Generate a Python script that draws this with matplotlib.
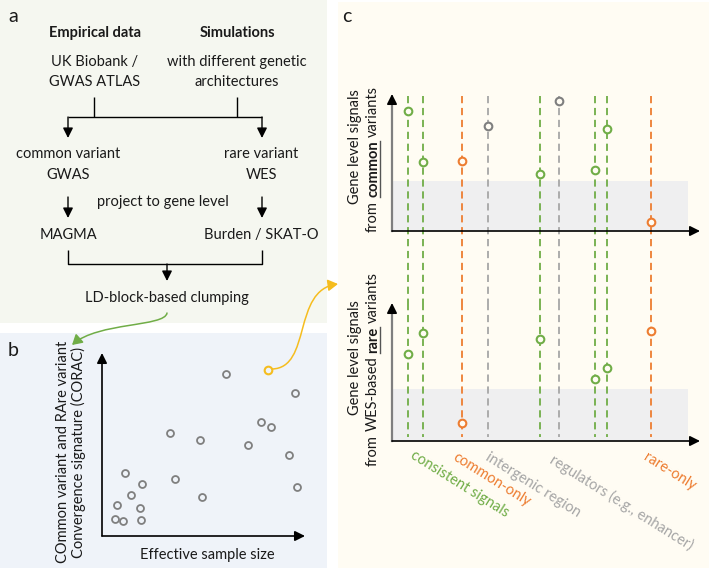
import matplotlib
matplotlib.use("Agg")
import matplotlib.pyplot as plt
import numpy as np
from matplotlib.patches import Rectangle, FancyArrowPatch
from matplotlib.path import Path

plt.rcParams["font.family"] = ["Lato", "DejaVu Sans"]

# panel b: effective sample size vs CORAC (arbitrary units 0-10)
sample_size = [9.51, 7.83, 8.33, 7.19, 9.21, 9.61, 3.35, 4.83, 3.60, 4.93,
               1.13, 1.97, 1.43, 0.74, 1.87, 0.64, 1.03, 1.92, 6.11]
corac = [7.81, 6.23, 5.96, 4.97, 4.43, 2.68, 5.63, 5.25, 3.11, 2.13,
         3.44, 2.84, 2.24, 1.69, 1.53, 0.93, 0.82, 0.87, 8.85]
hl_size, hl_corac = 8.18, 9.07

# panel c: gene positions and signals (arbitrary units 0-10)
gene_pos = [0.52, 1.01, 2.27, 3.12, 4.81, 5.42, 6.59, 6.98, 8.41]
gene_cls = ["cons", "cons", "common", "inter", "cons", "reg", "cons", "cons", "rare"]
common_sig = [8.76, 5.04, 5.11, 7.66, 4.16, 9.49, 4.45, 7.45, 0.66]
rare_sig = [6.30, 7.83, 1.30, np.nan, 7.39, np.nan, 4.49, 5.29, 7.97]
thr_common = 3.65
thr_rare = 3.77
cat_labels = ["consistent signals", "common-only", "intergenic region",
              "regulators (e.g., enhancer)", "rare-only"]

GREEN = "#70ad47"
ORANGE = "#ed7d31"
GRAY = "#a6a6a6"
DGRAY = "#7f7f7f"
TXT = "#1a1a1a"
FS = 10.5
line_col = {"cons": GREEN, "common": ORANGE, "rare": ORANGE, "inter": GRAY, "reg": GRAY}
pt_col = {"cons": GREEN, "common": ORANGE, "rare": ORANGE, "inter": DGRAY, "reg": DGRAY}
cat_colors = [GREEN, ORANGE, GRAY, GRAY, ORANGE]

W, H = 709, 568
fig = plt.figure(figsize=(W / 100, H / 100), dpi=100)
ax = fig.add_axes([0, 0, 1, 1])
ax.set_xlim(0, W)
ax.set_ylim(H, 0)
ax.axis("off")

# panel backgrounds
ax.add_patch(Rectangle((0, 0), 327, 323, fc="#f5f7f0", ec="none"))
ax.add_patch(Rectangle((0, 333), 327, 235, fc="#eff3f9", ec="none"))
ax.add_patch(Rectangle((338, 2), 371, 566, fc="#fffcf3", ec="none"))

for s, x, y in [("a", 13, 17), ("b", 13, 350), ("c", 347, 17)]:
    ax.text(x, y, s, fontsize=14, ha="center", va="center", color=TXT)


def t(x, y, s, **kw):
    kw.setdefault("fontsize", FS)
    ax.text(x, y, s, ha="center", va="center", color=TXT, **kw)


def seg(xs, ys):
    ax.plot(xs, ys, color="k", lw=1.0, solid_capstyle="butt")


def arrow(x0, y0, x1, y1, col="k", lw=1.0):
    ax.annotate("", xy=(x1, y1), xytext=(x0, y0),
                arrowprops=dict(arrowstyle="-|>,head_length=0.6,head_width=0.3",
                                color=col, lw=lw, shrinkA=0, shrinkB=0))


# ---- panel a: flowchart
t(95, 33, "Empirical data", fontweight="bold")
t(237, 33, "Simulations", fontweight="bold")
t(95, 62, "UK Biobank /")
t(95, 82, "GWAS ATLAS")
t(237, 62, "with different genetic")
t(237, 82, "architectures")
seg([94, 94], [97, 117])
seg([237, 237], [97, 117])
seg([68, 262], [117, 117])
arrow(68, 117, 68, 138)
arrow(262, 117, 262, 138)
t(68, 154, "common variant")
t(68, 175, "GWAS")
t(261, 154, "rare variant")
t(262, 175, "WES")
arrow(68, 197, 68, 218)
arrow(262, 197, 262, 218)
t(163, 202, "project to gene level")
t(68, 235, "MAGMA")
t(261, 235, "Burden / SKAT-O")
seg([68, 68, 262, 262], [250, 264, 264, 250])
arrow(167, 264, 167, 281)
t(167, 298, "LD-block-based clumping")

# green curved arrow a -> b
gpath = Path([(167, 313), (165, 327), (98, 322), (72, 345)],
             [Path.MOVETO, Path.CURVE4, Path.CURVE4, Path.CURVE4])
ax.add_patch(FancyArrowPatch(path=gpath, arrowstyle="-|>,head_length=6,head_width=3.5",
                             color=GREEN, lw=1.1, transform=ax.transData))

# ---- panel b
def fig_rect(x0, y0, x1, y1):
    return [x0 / W, 1 - y1 / H, (x1 - x0) / W, (y1 - y0) / H]


axb = fig.add_axes(fig_rect(102, 353, 305, 536))
axb.set_xlim(0, 10)
axb.set_ylim(0, 10)
axb.axis("off")
axb.plot(sample_size, corac, "o", ms=5, mfc="none", mec=DGRAY, mew=1.3, clip_on=False)
axb.plot([hl_size], [hl_corac], "o", ms=5.5, mfc="none", mec="#f5bd1f", mew=1.5, clip_on=False)
for xy, xyt in [((0, 1), (0, 0)), ((1, 0), (0, 0))]:
    axb.annotate("", xy=xy, xytext=xyt, xycoords="axes fraction",
                 arrowprops=dict(arrowstyle="-|>,head_length=0.6,head_width=0.3",
                                 color="k", lw=1.2, shrinkA=0, shrinkB=0))
t(71, 452, "COmmon variant and RAre variant\nConvergence signature (CORAC)",
  rotation=90, linespacing=1.15)
t(207, 555, "Effective sample size")

# yellow curved arrow b -> c
ypath = Path([(272, 369), (312, 368), (292, 290), (338, 284)],
             [Path.MOVETO, Path.CURVE4, Path.CURVE4, Path.CURVE4])
ax.add_patch(FancyArrowPatch(path=ypath, arrowstyle="-|>,head_length=6,head_width=3.5",
                             color="#f5bd1f", lw=1.1, transform=ax.transData))

# ---- panel c
axt = fig.add_axes(fig_rect(392, 94, 700, 231))
axr = fig.add_axes(fig_rect(392, 303, 700, 441))
for a in (axt, axr):
    a.set_xlim(0, 10)
    a.set_ylim(0, 10)
    a.axis("off")

axt.add_patch(Rectangle((0, 0), 9.6, thr_common, fc="#efeff0", ec="none", zorder=0))
axr.add_patch(Rectangle((0, 0), 9.6, thr_rare, fc="#efeff0", ec="none", zorder=0))

top_span = ((231 - 96) / 13.7, (231 - 303) / 13.7)
bot_span = (10, (441 - 437) / 13.8)
for x, c in zip(gene_pos, gene_cls):
    axt.plot([x, x], top_span, color=line_col[c], lw=1.3, ls=(0, (4, 2.6)),
             clip_on=False, zorder=1)
    axr.plot([x, x], bot_span, color=line_col[c], lw=1.3, ls=(0, (4, 2.6)),
             clip_on=False, zorder=1)
for x, c, ys, yr in zip(gene_pos, gene_cls, common_sig, rare_sig):
    axt.plot([x], [ys], "o", ms=5.5, mfc="#fffcf3", mec=pt_col[c], mew=1.5, zorder=3)
    if not np.isnan(yr):
        axr.plot([x], [yr], "o", ms=5.5, mfc="#fffcf3", mec=pt_col[c], mew=1.5, zorder=3)

head = dict(arrowstyle="-|>,head_length=0.6,head_width=0.3", color="k", lw=1.2,
            shrinkA=0, shrinkB=0)
for a in (axt, axr):
    a.plot([0, 0], [0, 0.95], color=DGRAY, lw=1.6, transform=a.transAxes, clip_on=False)
    a.annotate("", xy=(0, 1), xytext=(0, 0.95), xycoords="axes fraction", arrowprops=head)
    a.annotate("", xy=(1, 0), xytext=(0, 0), xycoords="axes fraction", arrowprops=head)

anchors = [(415, 448), (458, 450), (490, 450), (555, 452), (648, 450)]
for s, c, (x, y) in zip(cat_labels, cat_colors, anchors):
    ax.text(x, y, s, rotation=-32, rotation_mode="anchor", ha="left", va="top",
            color=c, fontsize=FS)

t(355, 147, "Gene level signals", rotation=90)
t(355, 358, "Gene level signals", rotation=90)


def rich_vtext(x, yc, pieces):
    r = fig.canvas.get_renderer()

    def width(s, w):
        tt = ax.text(0, 0, s, fontsize=FS, fontweight=w)
        bb = tt.get_window_extent(r)
        tt.remove()
        return bb.width

    sp = width("a a", "normal") - width("aa", "normal")
    ws = [width(s, w) for s, w, u in pieces]
    y = yc + (sum(ws) + sp * (len(pieces) - 1)) / 2
    for (s, w, u), wd in zip(pieces, ws):
        ax.text(x, y, s, rotation=90, rotation_mode="anchor", ha="left",
                va="center", fontsize=FS, fontweight=w, color=TXT)
        if u:
            ax.plot([x + 7, x + 7], [y, y - wd], color="#555555", lw=1.0)
        y -= wd + sp


rich_vtext(373, 159, [("from", "normal", False), ("common", "bold", True),
                      ("variants", "normal", False)])
rich_vtext(373, 369, [("from", "normal", False), ("WES-based", "normal", False),
                      ("rare", "bold", True), ("variants", "normal", False)])

fig.savefig("out.png", dpi=100)
